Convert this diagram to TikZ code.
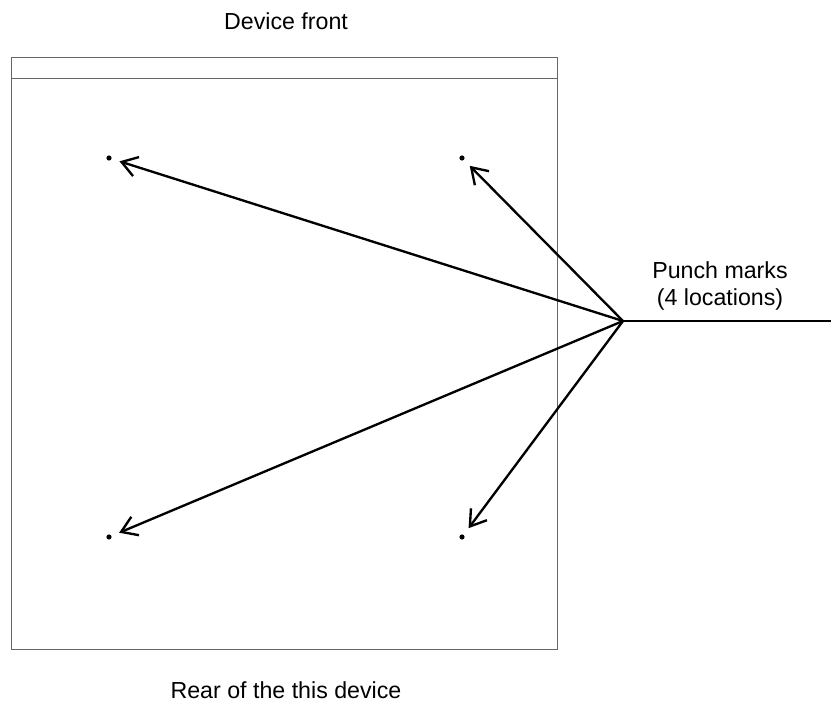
\documentclass[tikz,border=0pt]{standalone}
\usepackage{fontspec}
\setmainfont{Liberation Sans}
\usetikzlibrary{arrows.meta}
\begin{document}
\begin{tikzpicture}[x=0.03cm,y=-0.03cm]
            \tikzset{lbl/.style={font=\fontsize{19.8}{23}\selectfont, align=center},
                     pointer/.style={line width=2pt, -{Straight Barb[length=13pt,width=17pt,line width=2pt]}, shorten >=0.33cm}}
            \useasboundingbox (0,0) rectangle (831,711);
            % device outline
            \draw [gray!80!black, line width=0.8pt] (11,78) rectangle (557,649);
            \draw [gray!80!black, line width=0.8pt] (11,78) -- (11,57) -- (557,57) -- (557,78);
            \node [lbl] (front) at (286,21) {Device front};
            \node [lbl] (rear) at (286,690) {Rear of the this device};
            % punch marks
            \fill (109,158) coordinate (p1) circle(2.2pt);
            \fill (462,158) coordinate (p2) circle(2.2pt);
            \fill (109,537) coordinate (p3) circle(2.2pt);
            \fill (462,537) coordinate (p4) circle(2.2pt);
            \coordinate (hub) at (623,321);
            \coordinate (tail) at (831,321);
            \node [lbl] (marks) at (720,286) {Punch marks\\(4 locations)};
            \draw [line width=2pt] (hub) -- (tail);
            \draw [pointer] (hub) -- (p1);
            \draw [pointer] (hub) -- (p2);
            \draw [pointer] (hub) -- (p3);
            \draw [pointer] (hub) -- (p4);
        \end{tikzpicture}
\end{document}
